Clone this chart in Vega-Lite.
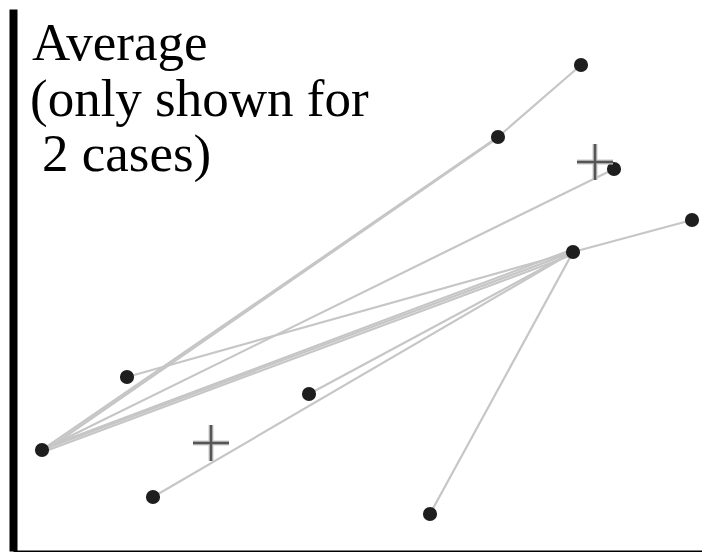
{
  "$schema": "https://vega.github.io/schema/vega-lite/v6.json",
  "width": 689,
  "height": 542,
  "padding": {"left": 13, "top": 9, "right": 0, "bottom": 1},
  "autosize": {"type": "none"},
  "background": "white",
  "config": {"view": {"stroke": null}},
  "datasets": {
    "segments": [
      {"seg": "A-D1", "x": 42, "y": 101}, {"seg": "A-D1", "x": 498, "y": 414},
      {"seg": "A-D2", "x": 43, "y": 99}, {"seg": "A-D2", "x": 496, "y": 412},
      {"seg": "D-C", "x": 498, "y": 414}, {"seg": "D-C", "x": 581, "y": 486},
      {"seg": "A-E", "x": 42, "y": 101}, {"seg": "A-E", "x": 614, "y": 382},
      {"seg": "G-B", "x": 127, "y": 174}, {"seg": "G-B", "x": 573, "y": 299},
      {"seg": "A-B1", "x": 42, "y": 101}, {"seg": "A-B1", "x": 573, "y": 299},
      {"seg": "A-B2", "x": 43, "y": 99}, {"seg": "A-B2", "x": 572, "y": 296},
      {"seg": "A-B3", "x": 44, "y": 103}, {"seg": "A-B3", "x": 571, "y": 301},
      {"seg": "H-B", "x": 309, "y": 157}, {"seg": "H-B", "x": 573, "y": 299},
      {"seg": "I-B", "x": 153, "y": 54}, {"seg": "I-B", "x": 573, "y": 299},
      {"seg": "J-B", "x": 430, "y": 37}, {"seg": "J-B", "x": 573, "y": 299},
      {"seg": "B-F", "x": 573, "y": 299}, {"seg": "B-F", "x": 692, "y": 331}
    ],
    "dots": [
      {"x": 42, "y": 101}, {"x": 573, "y": 299}, {"x": 581, "y": 486},
      {"x": 498, "y": 414}, {"x": 614, "y": 382}, {"x": 692, "y": 331},
      {"x": 127, "y": 174}, {"x": 309, "y": 157}, {"x": 153, "y": 54},
      {"x": 430, "y": 37}
    ],
    "averages": [
      {"x": 595, "y": 389}, {"x": 211, "y": 108}
    ],
    "label": [
      {"x": 32, "y": 491, "text": "Average"},
      {"x": 30, "y": 435, "text": "(only shown for"},
      {"x": 42, "y": 380, "text": "2 cases)"}
    ]
  },
  "layer": [
    {
      "data": {"name": "segments"},
      "mark": {"type": "line", "stroke": "#c6c6c6", "strokeWidth": 2.2},
      "encoding": {
        "x": {"field": "x", "type": "quantitative", "scale": {"domain": [13, 702], "nice": false, "zero": false},
              "axis": {"title": null, "labels": false, "ticks": false, "grid": false, "domainColor": "black", "domainWidth": 2}},
        "y": {"field": "y", "type": "quantitative", "scale": {"domain": [0, 542], "nice": false, "zero": false},
              "axis": {"title": null, "labels": false, "ticks": false, "grid": false, "domainColor": "black", "domainWidth": 8}},
        "detail": {"field": "seg"}
      }
    },
    {
      "data": {"name": "dots"},
      "mark": {"type": "point", "filled": true, "fill": "#1e1e1e", "opacity": 1, "size": 200},
      "encoding": {
        "x": {"field": "x", "type": "quantitative"},
        "y": {"field": "y", "type": "quantitative"}
      }
    },
    {
      "data": {"name": "averages"},
      "mark": {"type": "point", "shape": "M-1,0L1,0M0,-1L0,1", "filled": false, "stroke": "#c8c8c8", "strokeWidth": 5, "opacity": 1, "size": 1300},
      "encoding": {
        "x": {"field": "x", "type": "quantitative"},
        "y": {"field": "y", "type": "quantitative"}
      }
    },
    {
      "data": {"name": "averages"},
      "mark": {"type": "point", "shape": "M-1,0L1,0M0,-1L0,1", "filled": false, "stroke": "#555555", "strokeWidth": 2.5, "opacity": 1, "size": 1300},
      "encoding": {
        "x": {"field": "x", "type": "quantitative"},
        "y": {"field": "y", "type": "quantitative"}
      }
    },
    {
      "data": {"name": "label"},
      "mark": {"type": "text", "align": "left", "baseline": "alphabetic", "font": "'Liberation Serif', 'DejaVu Serif', serif", "fontSize": 53, "color": "#000000"},
      "encoding": {
        "x": {"field": "x", "type": "quantitative"},
        "y": {"field": "y", "type": "quantitative"},
        "text": {"field": "text"}
      }
    }
  ]
}
